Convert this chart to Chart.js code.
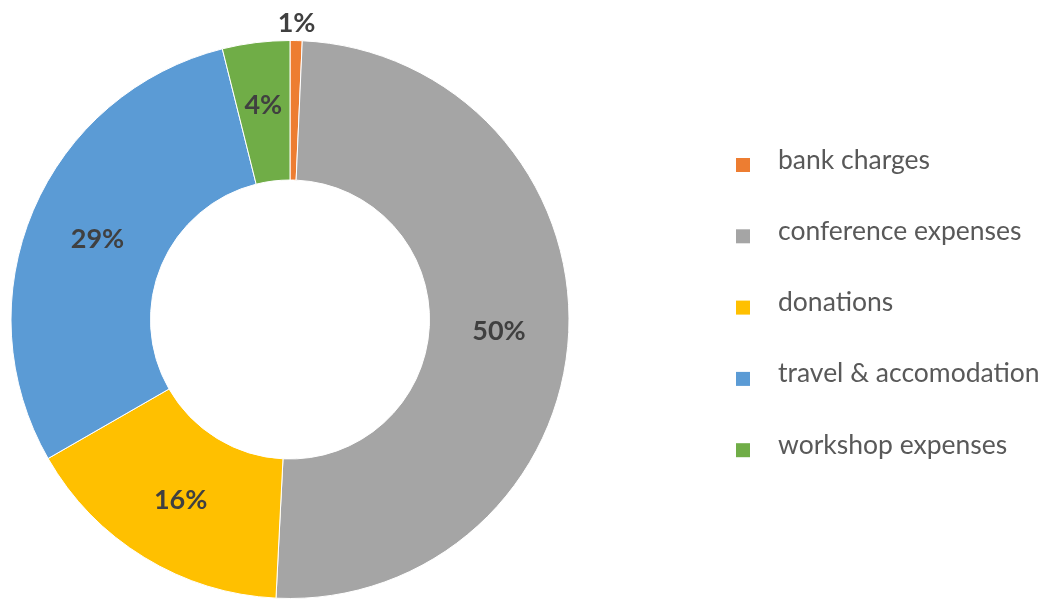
<!DOCTYPE html>
<html>
<head>
<meta charset="utf-8">
<script src="https://cdn.jsdelivr.net/npm/chart.js@4/dist/chart.umd.min.js"></script>
<style>
  html, body { margin: 0; padding: 0; background: #fff; }
  #wrap { width: 1049px; height: 599px; position: relative; }
</style>
</head>
<body>
<div id="wrap"><canvas id="c" width="1049" height="599"></canvas></div>
<script>
const categories = ["bank charges", "conference expenses", "donations", "travel & accomodation", "workshop expenses"];
const values = [0.7, 50.1, 15.9, 29.4, 3.9];
const percentLabels = ["1%", "50%", "16%", "29%", "4%"];
const colors = ["#ED7D31", "#A5A5A5", "#FFC000", "#5B9BD5", "#70AD47"];

const FONT = "Lato, 'Open Sans', sans-serif";

const labelPlugin = {
  id: 'sliceLabels',
  afterDatasetsDraw(chart) {
    const ctx = chart.ctx;
    const meta = chart.getDatasetMeta(0);
    ctx.save();
    ctx.font = "bold 27px " + FONT;
    ctx.fillStyle = "#404040";
    ctx.textAlign = "center";
    ctx.textBaseline = "middle";
    meta.data.forEach((arc, i) => {
      const p = arc.getProps(['x', 'y', 'startAngle', 'endAngle', 'innerRadius', 'outerRadius'], true);
      const mid = (p.startAngle + p.endAngle) / 2;
      let r = (p.innerRadius + p.outerRadius) / 2;
      if (values[i] < 2) r = p.outerRadius + 19;
      else if (values[i] < 5) r = r + 9;
      ctx.fillText(percentLabels[i], p.x + Math.cos(mid) * r, p.y + Math.sin(mid) * r + 2);
    });
    ctx.restore();
  }
};

const legendPlugin = {
  id: 'sideLegend',
  afterDraw(chart) {
    const ctx = chart.ctx;
    ctx.save();
    ctx.font = "26.5px " + FONT;
    ctx.textAlign = "left";
    ctx.textBaseline = "middle";
    const top = 160, step = 71.3;
    categories.forEach((name, i) => {
      const y = top + i * step;
      ctx.fillStyle = colors[i];
      ctx.fillRect(736, y - 2, 14, 14);
      ctx.fillStyle = "#595959";
      ctx.fillText(name, 778, y);
    });
    ctx.restore();
  }
};

new Chart(document.getElementById('c'), {
  type: 'doughnut',
  data: {
    labels: categories,
    datasets: [{
      data: values,
      backgroundColor: colors,
      borderColor: "#ffffff",
      borderWidth: 1,
      hoverOffset: 0
    }]
  },
  options: {
    responsive: false,
    animation: false,
    cutout: '50%',
    layout: { padding: { left: 0, right: 469, top: 40, bottom: 0 } },
    plugins: {
      legend: { display: false },
      tooltip: { enabled: false }
    }
  },
  plugins: [labelPlugin, legendPlugin]
});
</script>
</body>
</html>
